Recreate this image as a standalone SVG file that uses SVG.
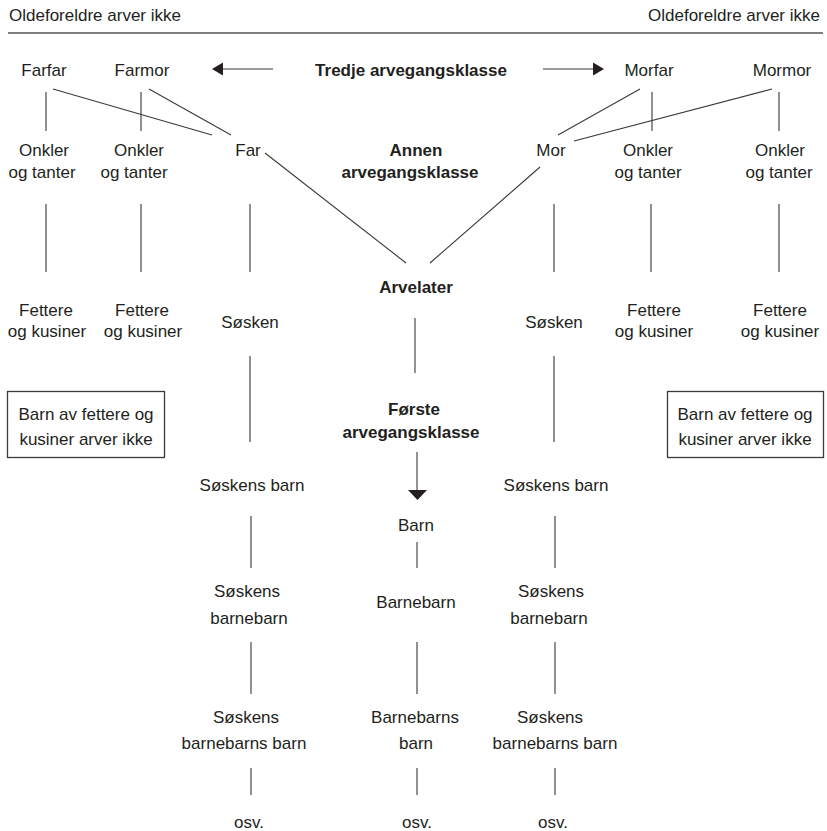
<svg xmlns="http://www.w3.org/2000/svg" width="827" height="831" viewBox="0 0 827 831">
<style>
text{font-family:"Liberation Sans",Arial,sans-serif;font-size:17px;fill:#231f20;text-anchor:middle}
.b{font-weight:bold}
.l{text-anchor:start}
.r{text-anchor:end}
.c line{stroke:#3a3a3a;stroke-width:1.1}
.c .v{stroke:#555;stroke-width:1.3}
.box{fill:none;stroke:#3a3a3a;stroke-width:1.3}
.ah{fill:#231f20}
</style>
<rect width="827" height="831" fill="#fff"/>
<g id="header">
<text class="l" x="9" y="21">Oldeforeldre arver ikke</text>
<text class="r" x="820" y="21">Oldeforeldre arver ikke</text>
<line x1="8" y1="33" x2="823" y2="33" stroke="#555" stroke-width="1.5"/>
</g>
<g class="c" id="connectors">
<line x1="222" y1="69" x2="273" y2="69" stroke-width="1.6"/>
<polygon class="ah" points="212,69 223,62.5 223,75.5"/>
<line x1="543" y1="69" x2="593" y2="69" stroke-width="1.6"/>
<polygon class="ah" points="604,69 593,62.5 593,75.5"/>
<line class="v" x1="46" y1="92" x2="46" y2="131"/>
<line class="v" x1="141" y1="92" x2="141" y2="131"/>
<line x1="53" y1="89" x2="212" y2="135"/>
<line x1="149" y1="89" x2="231" y2="135"/>
<line x1="640" y1="89" x2="558" y2="135"/>
<line class="v" x1="652" y1="92" x2="652" y2="131"/>
<line x1="772" y1="89" x2="574" y2="141"/>
<line class="v" x1="779" y1="92" x2="779" y2="131"/>
<line x1="265" y1="153" x2="406" y2="263"/>
<line x1="540" y1="167" x2="430" y2="263"/>
<line class="v" x1="46" y1="204" x2="46" y2="272"/>
<line class="v" x1="141" y1="204" x2="141" y2="272"/>
<line class="v" x1="250" y1="204" x2="250" y2="272"/>
<line class="v" x1="554" y1="204" x2="554" y2="272"/>
<line class="v" x1="651" y1="204" x2="651" y2="272"/>
<line class="v" x1="779" y1="204" x2="779" y2="272"/>
<line x1="415" y1="318" x2="415" y2="373" stroke-width="1.5"/>
<line class="v" x1="250" y1="356" x2="250" y2="442"/>
<line class="v" x1="554" y1="356" x2="554" y2="442"/>
<line x1="417" y1="452" x2="417" y2="491" stroke-width="1.5"/>
<polygon class="ah" points="408,490 427,490 417.5,500"/>
<line class="v" x1="251" y1="516" x2="251" y2="568"/>
<line class="v" x1="555" y1="516" x2="555" y2="568"/>
<line x1="417" y1="542" x2="417" y2="568" stroke-width="1.5"/>
<line class="v" x1="251" y1="642" x2="251" y2="694"/>
<line class="v" x1="417" y1="642" x2="417" y2="694"/>
<line class="v" x1="555" y1="642" x2="555" y2="694"/>
<line class="v" x1="251" y1="768" x2="251" y2="795"/>
<line class="v" x1="417" y1="768" x2="417" y2="795"/>
<line class="v" x1="555" y1="768" x2="555" y2="795"/>
</g>
<g id="farfar"><text x="44" y="76">Farfar</text></g>
<g id="farmor"><text x="142" y="76">Farmor</text></g>
<g id="tredje"><text class="b" x="411" y="76">Tredje arvegangsklasse</text></g>
<g id="morfar"><text x="649" y="76">Morfar</text></g>
<g id="mormor"><text x="782" y="76">Mormor</text></g>
<g id="onkler1"><text x="44" y="156">Onkler</text><text x="42" y="178">og tanter</text></g>
<g id="onkler2"><text x="139" y="156">Onkler</text><text x="134" y="178">og tanter</text></g>
<g id="far"><text x="248" y="156">Far</text></g>
<g id="annen"><text class="b" x="416" y="156">Annen</text><text class="b" x="410" y="178">arvegangsklasse</text></g>
<g id="mor"><text x="551" y="156">Mor</text></g>
<g id="onkler3"><text x="648" y="156">Onkler</text><text x="648" y="178">og tanter</text></g>
<g id="onkler4"><text x="780" y="156">Onkler</text><text x="779" y="178">og tanter</text></g>
<g id="arvelater"><text class="b" x="416" y="293">Arvelater</text></g>
<g id="fettere1"><text x="46" y="316">Fettere</text><text x="47" y="337">og kusiner</text></g>
<g id="fettere2"><text x="142" y="316">Fettere</text><text x="143" y="337">og kusiner</text></g>
<g id="sosken1"><text x="250" y="328">Søsken</text></g>
<g id="sosken2"><text x="554" y="328">Søsken</text></g>
<g id="fettere3"><text x="654" y="316">Fettere</text><text x="654" y="337">og kusiner</text></g>
<g id="fettere4"><text x="780" y="316">Fettere</text><text x="780" y="337">og kusiner</text></g>
<g id="boks1"><rect class="box" x="7.5" y="391.5" width="157" height="66"/><text x="86" y="420">Barn av fettere og</text><text x="86" y="445">kusiner arver ikke</text></g>
<g id="boks2"><rect class="box" x="667.5" y="391.5" width="156" height="66"/><text x="745" y="420">Barn av fettere og</text><text x="745" y="445">kusiner arver ikke</text></g>
<g id="forste"><text class="b" x="414" y="415">Første</text><text class="b" x="411" y="438">arvegangsklasse</text></g>
<g id="soskensbarn1"><text x="252" y="491">Søskens barn</text></g>
<g id="barn"><text x="416" y="531">Barn</text></g>
<g id="soskensbarn2"><text x="556" y="491">Søskens barn</text></g>
<g id="soskensbarnebarn1"><text x="247" y="597">Søskens</text><text x="249" y="624">barnebarn</text></g>
<g id="barnebarn"><text x="416" y="608">Barnebarn</text></g>
<g id="soskensbarnebarn2"><text x="551" y="597">Søskens</text><text x="549" y="624">barnebarn</text></g>
<g id="soskensbbb1"><text x="246" y="723">Søskens</text><text x="244" y="749">barnebarns barn</text></g>
<g id="barnebarnsbarn"><text x="415" y="723">Barnebarns</text><text x="416" y="749">barn</text></g>
<g id="soskensbbb2"><text x="550" y="723">Søskens</text><text x="555" y="749">barnebarns barn</text></g>
<g id="osv1"><text x="249" y="828">osv.</text></g>
<g id="osv2"><text x="417" y="828">osv.</text></g>
<g id="osv3"><text x="553" y="828">osv.</text></g>
</svg>
